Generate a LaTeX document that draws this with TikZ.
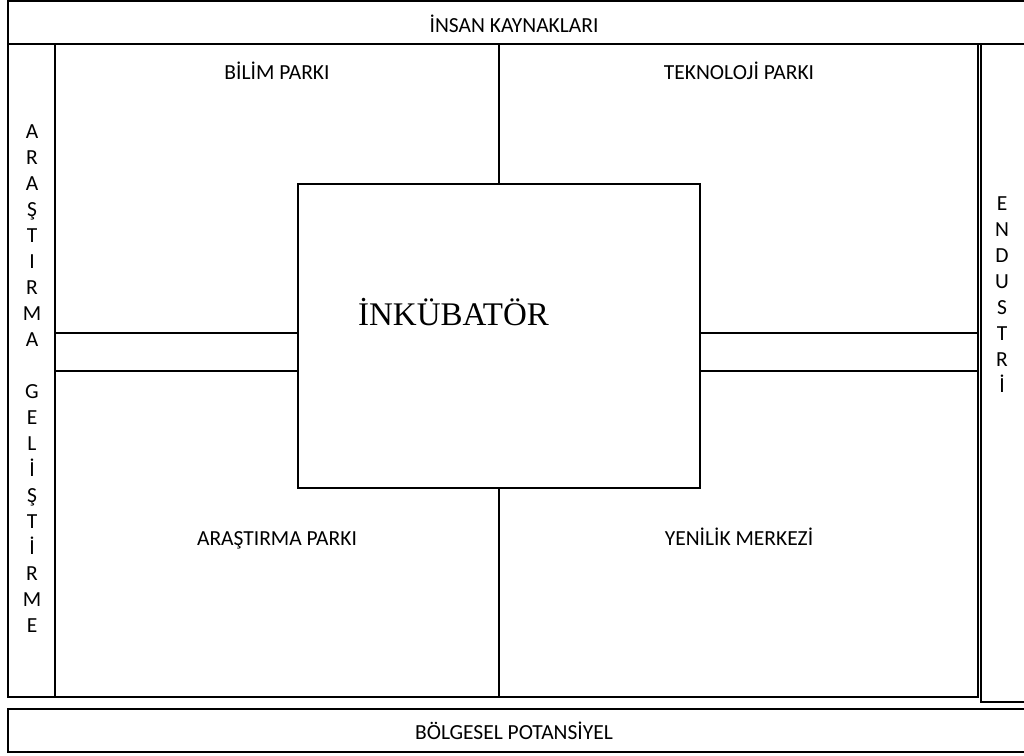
\documentclass[tikz,border=0pt]{standalone}
\usepackage{fontspec}
\setmainfont{Carlito}
\newfontfamily\incfont{Liberation Serif}
\begin{document}
\begin{tikzpicture}[x=1pt,y=-1pt,
  panel/.style={draw=black, line width=1.8pt, rectangle, inner sep=0pt},
  lbl/.style={font=\fontsize{21.5}{26}\selectfont, inner sep=0pt, anchor=base},
  vlbl/.style={font=\fontsize{21.5}{26}\selectfont, inner sep=0pt, align=center},
  divider/.style={draw=black, line width=1.8pt}]
\useasboundingbox (0,0) rectangle (1024,755);
\fill[white] (0,0) rectangle (1024,755);

% outer bands
\node[panel, minimum width=1022pt, minimum height=43pt] (hr) at (519,22.5) {};
\node[panel, minimum width=1022pt, minimum height=43pt] (reg) at (519,730.5) {};
\node[panel, minimum width=47pt, minimum height=653pt] (rnd) at (31.5,370.5) {};
\node[panel, minimum width=49pt, minimum height=658pt] (ind) at (1005.5,373) {};
\node[panel, minimum width=923pt, minimum height=653pt] (main) at (516.5,370.5) {};

% central incubator
\node[panel, minimum width=402pt, minimum height=304pt] (inc) at (499,336) {};
\node[font=\incfont\fontsize{33}{38}\selectfont, inner sep=0pt] (inctxt) at (453.5,312) {İNKÜBATÖR};

% dividers from the incubator to the frame
\coordinate (h1) at (0,333);
\coordinate (h2) at (0,371);
\draw[divider] (inc.north) -- (inc.north |- main.north);
\draw[divider] (inc.south) -- (inc.south |- main.south);
\draw[divider] (main.west |- h1) -- (inc.west |- h1);
\draw[divider] (main.west |- h2) -- (inc.west |- h2);
\draw[divider] (inc.east |- h1) -- (main.east |- h1);
\draw[divider] (inc.east |- h2) -- (main.east |- h2);

% labels
\node[lbl] (hrtxt) at (514,32) {İNSAN KAYNAKLARI};
\node[lbl] (regtxt) at (514,739) {BÖLGESEL POTANSİYEL};
\node[lbl] (q1) at (277,79) {BİLİM PARKI};
\node[lbl] (q2) at (739,79) {TEKNOLOJİ PARKI};
\node[lbl] (q3) at (277,545) {ARAŞTIRMA PARKI};
\node[lbl] (q4) at (739,545) {YENİLİK MERKEZİ};
\node[vlbl] (rndtxt) at (32,379) {A\\R\\A\\Ş\\T\\I\\R\\M\\A\\[26pt]G\\E\\L\\İ\\Ş\\T\\İ\\R\\M\\E};
\node[vlbl] (indtxt) at (1002,295) {E\\N\\D\\U\\S\\T\\R\\İ};
\end{tikzpicture}
\end{document}
